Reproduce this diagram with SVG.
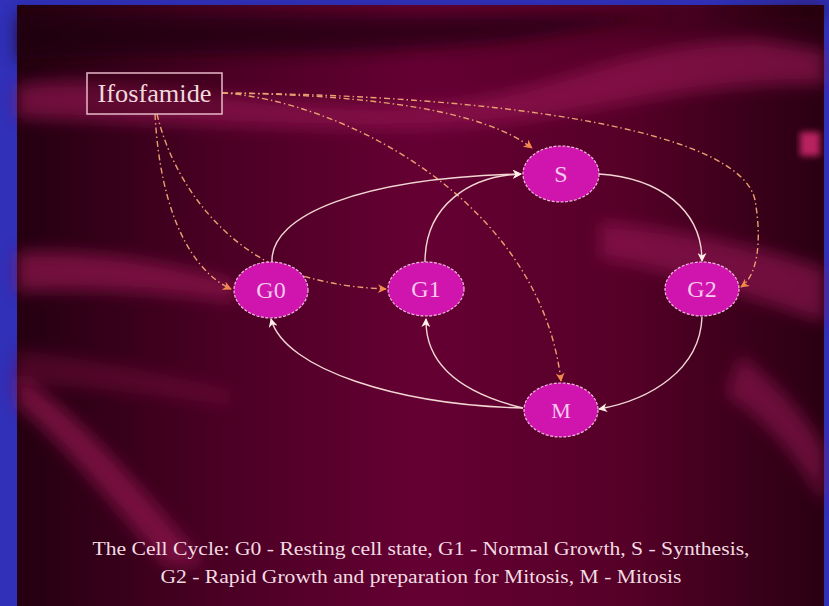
<svg xmlns="http://www.w3.org/2000/svg" width="829" height="606" viewBox="0 0 829 606">
<defs>
<linearGradient id="bg" x1="0" y1="0" x2="1" y2="0">
<stop offset="0" stop-color="#240010"/>
<stop offset="0.25" stop-color="#4a0024"/>
<stop offset="0.5" stop-color="#650033"/>
<stop offset="0.75" stop-color="#560028"/>
<stop offset="1" stop-color="#2a0012"/>
</linearGradient>
<filter id="blur" x="-20%" y="-50%" width="140%" height="200%"><feGaussianBlur stdDeviation="8"/></filter>
<filter id="blur2" x="-20%" y="-50%" width="140%" height="200%"><feGaussianBlur stdDeviation="3"/></filter>
<marker id="aw" viewBox="0 0 10 10" refX="9" refY="5" markerWidth="9" markerHeight="9" markerUnits="userSpaceOnUse" orient="auto">
<path d="M0,0 L10,5 L0,10 L3,5 Z" fill="#fff0e8"/>
</marker>
<marker id="ao" viewBox="0 0 10 10" refX="9" refY="5" markerWidth="9" markerHeight="9" markerUnits="userSpaceOnUse" orient="auto">
<path d="M0,0 L10,5 L0,10 L3,5 Z" fill="#f08a4a"/>
</marker>
</defs>
<style>
.node ellipse{fill:#d014ae;stroke:#f4b8e0;stroke-width:1.2;stroke-dasharray:3 1.5}
.lbl{font-family:"Liberation Serif","Times New Roman",serif;fill:#f6c8ec;text-anchor:middle}
.w{fill:none;stroke:#f2d6d2;stroke-width:1.4;marker-end:url(#aw)}
.o{fill:none;stroke:#e8a070;stroke-width:1.4;stroke-dasharray:6 3 1.5 3;marker-end:url(#ao)}
.cap{font-family:"Liberation Serif","Times New Roman",serif;font-size:19px;fill:#f2dce2;text-anchor:middle}
</style>
<rect x="0" y="0" width="829" height="606" fill="#3030b8"/>
<rect x="17" y="5" width="807" height="601" fill="url(#bg)"/>
<g id="background">
<path d="M17,60 C150,50 350,60 520,40 C620,25 700,10 824,5 L824,15 L17,15 Z" fill="#1e000c" opacity="0.7" filter="url(#blur)"/>
<path d="M17,85 C120,70 250,110 420,105 C560,95 620,40 760,40 L824,50 L824,85 C740,80 640,100 560,115 C420,140 260,125 17,118 Z" fill="#951652" opacity="0.65" filter="url(#blur)"/>
<path d="M17,252 C90,248 170,262 235,282 L235,302 C170,292 90,288 17,292 Z" fill="#921250" opacity="0.7" filter="url(#blur)"/>
<path d="M600,222 C680,228 760,248 824,268 L824,322 C760,302 680,272 600,258 Z" fill="#921652" opacity="0.65" filter="url(#blur)"/>
<path d="M17,405 C60,440 110,500 165,565 L205,565 C145,490 80,415 17,372 Z" fill="#921250" opacity="0.7" filter="url(#blur)"/>
<path d="M740,355 C780,385 810,420 824,450 L824,505 C800,462 770,422 726,395 Z" fill="#921652" opacity="0.6" filter="url(#blur)"/>
<path d="M17,350 C100,360 150,370 230,390 L230,405 C150,395 80,385 17,385 Z" fill="#7a0c40" opacity="0.45" filter="url(#blur)"/>
<rect x="800" y="132" width="20" height="24" fill="#b8205e" filter="url(#blur2)"/>
</g>
<g id="connectors">
<path class="o" d="M222,93 C380,95 485,112 532,148"/>
<path class="o" d="M222,93 C500,95 740,130 755,200 C762,240 758,275 741,287"/>
<path class="o" d="M222,93 C340,100 540,200 561,381"/>
<path class="o" d="M155,114 C160,210 190,270 231,289"/>
<path class="o" d="M157,114 C175,190 230,250 290,272 C330,285 360,288 386,289"/>
<path class="w" d="M272,262 C270,215 360,178 521,174"/>
<path class="w" d="M425,262 C425,205 470,176 521,174"/>
<path class="w" d="M599,174 C660,178 702,210 702,261"/>
<path class="w" d="M702,317 C700,370 650,400 599,409"/>
<path class="w" d="M523,408 C400,405 285,370 271,319"/>
<path class="w" d="M523,408 C470,395 425,370 426,319"/>
</g>
<g id="ifosfamide">
<rect x="87" y="73" width="135" height="41" fill="#3a0018" fill-opacity="0.35" stroke="#e8b8c8" stroke-width="1.5"/>
<text x="154.5" y="102" font-family="'Liberation Serif','Times New Roman',serif" font-size="26" fill="#f0d8dc" text-anchor="middle" textLength="114" lengthAdjust="spacingAndGlyphs">Ifosfamide</text>
</g>
<g id="G0" class="node"><ellipse cx="271" cy="290" rx="37" ry="28"/><text class="lbl" x="271" y="298" font-size="24">G0</text></g>
<g id="G1" class="node"><ellipse cx="426" cy="289" rx="38" ry="27"/><text class="lbl" x="426" y="297" font-size="24">G1</text></g>
<g id="S" class="node"><ellipse cx="561" cy="174" rx="38" ry="28"/><text class="lbl" x="561" y="182" font-size="24">S</text></g>
<g id="G2" class="node"><ellipse cx="702" cy="289" rx="37" ry="27"/><text class="lbl" x="702" y="297" font-size="24">G2</text></g>
<g id="M" class="node"><ellipse cx="561" cy="410" rx="37" ry="27"/><text class="lbl" x="561" y="418" font-size="22">M</text></g>
<g id="caption">
<text class="cap" x="421" y="555" textLength="657" lengthAdjust="spacingAndGlyphs">The Cell Cycle: G0 - Resting cell state, G1 - Normal Growth, S - Synthesis,</text>
<text class="cap" x="421" y="583" textLength="521" lengthAdjust="spacingAndGlyphs">G2 - Rapid Growth and preparation for Mitosis, M - Mitosis</text>
</g>
</svg>
